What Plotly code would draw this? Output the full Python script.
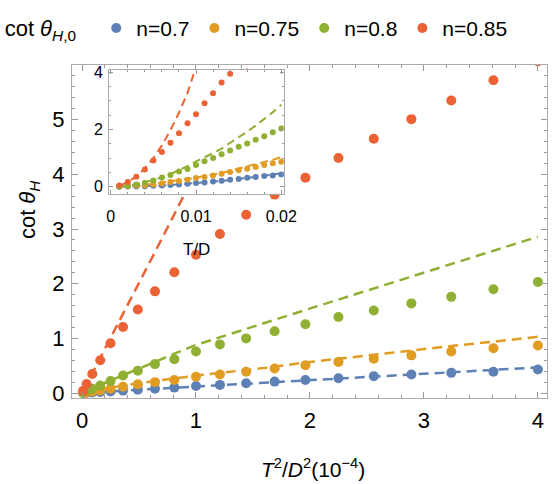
import plotly.graph_objects as go

# ---- data ----
td = [0.001, 0.002, 0.003, 0.004, 0.005, 0.006, 0.007, 0.008, 0.009, 0.010,
      0.011, 0.012, 0.013, 0.014, 0.015, 0.016, 0.017, 0.018, 0.019, 0.020]
# T^2/D^2 in units of 1e-4
x_main = [round((t * 100) ** 2, 4) for t in td]

names = ["n=0.7", "n=0.75", "n=0.8", "n=0.85"]
colors = ["#5E81B5", "#E19C24", "#8FB032", "#EB6235"]

dots_07 = [0.001, 0.005, 0.01, 0.02, 0.03, 0.045, 0.06, 0.08, 0.10, 0.13,
           0.15, 0.18, 0.21, 0.24, 0.27, 0.31, 0.34, 0.37, 0.39, 0.43]
dots_075 = [0.003, 0.012, 0.03, 0.05, 0.08, 0.115, 0.16, 0.20, 0.24, 0.30,
            0.34, 0.39, 0.45, 0.51, 0.57, 0.63, 0.69, 0.76, 0.82, 0.87]
dots_08 = [0.01, 0.035, 0.08, 0.14, 0.22, 0.32, 0.41, 0.53, 0.62, 0.76,
           0.89, 1.00, 1.13, 1.26, 1.39, 1.51, 1.64, 1.76, 1.90, 2.03]
dots_085 = [0.04, 0.165, 0.35, 0.60, 0.91, 1.21, 1.53, 1.86, 2.21, 2.53,
            2.91, 3.26, 3.63, 3.94, 4.30, 4.65, 5.01, 5.35, 5.72, 6.07]

# dashed curves: cot theta_{H,0}
line_07 = [0.001, 0.005, 0.01, 0.02, 0.03, 0.045, 0.06, 0.08, 0.10, 0.12,
           0.145, 0.17, 0.20, 0.23, 0.265, 0.30, 0.34, 0.38, 0.42, 0.47]
line_075 = [0.005, 0.02, 0.04, 0.07, 0.10, 0.14, 0.18, 0.22, 0.27, 0.32,
            0.37, 0.42, 0.48, 0.56, 0.63, 0.70, 0.78, 0.86, 0.94, 1.03]
line_08 = [0.01, 0.04, 0.09, 0.15, 0.23, 0.33, 0.44, 0.57, 0.72, 0.88,
           1.02, 1.17, 1.33, 1.52, 1.71, 1.92, 2.13, 2.36, 2.60, 2.86]
line_085 = [0.04, 0.16, 0.36, 0.64, 1.0, 1.44, 1.97, 2.58, 3.27, 4.05,
            4.9, 5.85, 6.9]

dots = [dots_07, dots_075, dots_08, dots_085]
lines = [line_07, line_075, line_08, line_085]

FONT = "Liberation Sans, Arial, sans-serif"
AX = "#ababab"
TK = "#9a9a9a"

fig = go.Figure()

for name, col, d, ln in zip(names, colors, dots, lines):
    n = len(ln)
    # main dashed
    fig.add_trace(go.Scatter(x=x_main[:n], y=ln, mode="lines", showlegend=False,
                             line=dict(color=col, width=2.5, dash="10px,6px"),
                             xaxis="x", yaxis="y", hoverinfo="skip"))
for name, col, d, ln in zip(names, colors, dots, lines):
    fig.add_trace(go.Scatter(x=x_main, y=d, mode="markers", name=name,
                             marker=dict(color=col, size=10),
                             xaxis="x", yaxis="y"))
# inset
for name, col, d, ln in zip(names, colors, dots, lines):
    n = len(ln)
    fig.add_trace(go.Scatter(x=td[:n], y=ln, mode="lines", showlegend=False,
                             line=dict(color=col, width=2, dash="8px,5px"),
                             xaxis="x2", yaxis="y2", hoverinfo="skip"))
for name, col, d, ln in zip(names, colors, dots, lines):
    fig.add_trace(go.Scatter(x=td, y=d, mode="markers", showlegend=False,
                             marker=dict(color=col, size=6),
                             xaxis="x2", yaxis="y2"))

common = dict(showline=True, linecolor=AX, linewidth=1, mirror="allticks",
              ticks="inside", tickcolor=TK, showgrid=False, zeroline=False)

fig.update_layout(
    width=559, height=484,
    margin=dict(l=72, r=12, t=65, b=86, autoexpand=False),
    paper_bgcolor="white", plot_bgcolor="white",
    font=dict(family=FONT, color="black"),
    xaxis=dict(domain=[0, 1], anchor="y", range=[-0.088, 4.08],
               tickvals=[0, 1, 2, 3, 4], ticklen=6,
               tickfont=dict(size=22), ticklabelstandoff=3,
               minor=dict(ticks="inside", ticklen=3, dtick=0.2, tickcolor=TK, showgrid=False),
               **common),
    yaxis=dict(domain=[0, 1], anchor="x", range=[-0.09, 6.0],
               tickvals=[0, 1, 2, 3, 4, 5], ticklen=6,
               tickfont=dict(size=22), ticklabelstandoff=2,
               minor=dict(ticks="inside", ticklen=3, dtick=0.2, tickcolor=TK, showgrid=False),
               **common),
    xaxis2=dict(domain=[0.078, 0.446], anchor="y2", range=[-0.0002, 0.0203],
                tickvals=[0, 0.01, 0.02], ticktext=["0", "0.01", "0.02"], ticklen=4,
                tickfont=dict(size=16), ticklabelstandoff=8,
                minor=dict(ticks="inside", ticklen=2, dtick=0.002, tickcolor=TK, showgrid=False),
                **common),
    yaxis2=dict(domain=[0.613, 0.985], anchor="x2", range=[-0.25, 4.07],
                tickvals=[0, 2, 4], ticklen=4,
                tickfont=dict(size=16), ticklabelstandoff=2,
                minor=dict(ticks="inside", ticklen=2, dtick=0.5, tickcolor=TK, showgrid=False),
                **common),
    legend=dict(orientation="h", x=-0.146, xanchor="left", y=1.11, yanchor="middle",
                font=dict(size=21), bgcolor="rgba(0,0,0,0)",
                title=dict(text="cot <i>θ</i><sub><i>H</i>,0</sub>  ", side="left",
                           font=dict(size=22)),
                itemwidth=30, tracegroupgap=0),
    annotations=[
        dict(text="cot <i>θ</i><sub><i>H</i></sub>", xref="paper", yref="paper",
             x=-0.09, y=0.565, textangle=-90, showarrow=False,
             xanchor="center", yanchor="middle", font=dict(size=22)),
        dict(text="<i>T</i><sup>2</sup>/<i>D</i><sup>2</sup>(10<sup>−4</sup>)",
             xref="paper", yref="paper", x=0.507, y=-0.21, showarrow=False,
             xanchor="center", yanchor="middle", font=dict(size=21)),
        dict(text="T/D", xref="paper", yref="paper", x=0.263, y=0.447,
             showarrow=False, xanchor="center", yanchor="middle", font=dict(size=17)),
    ],
)

fig.write_html("out.html")
